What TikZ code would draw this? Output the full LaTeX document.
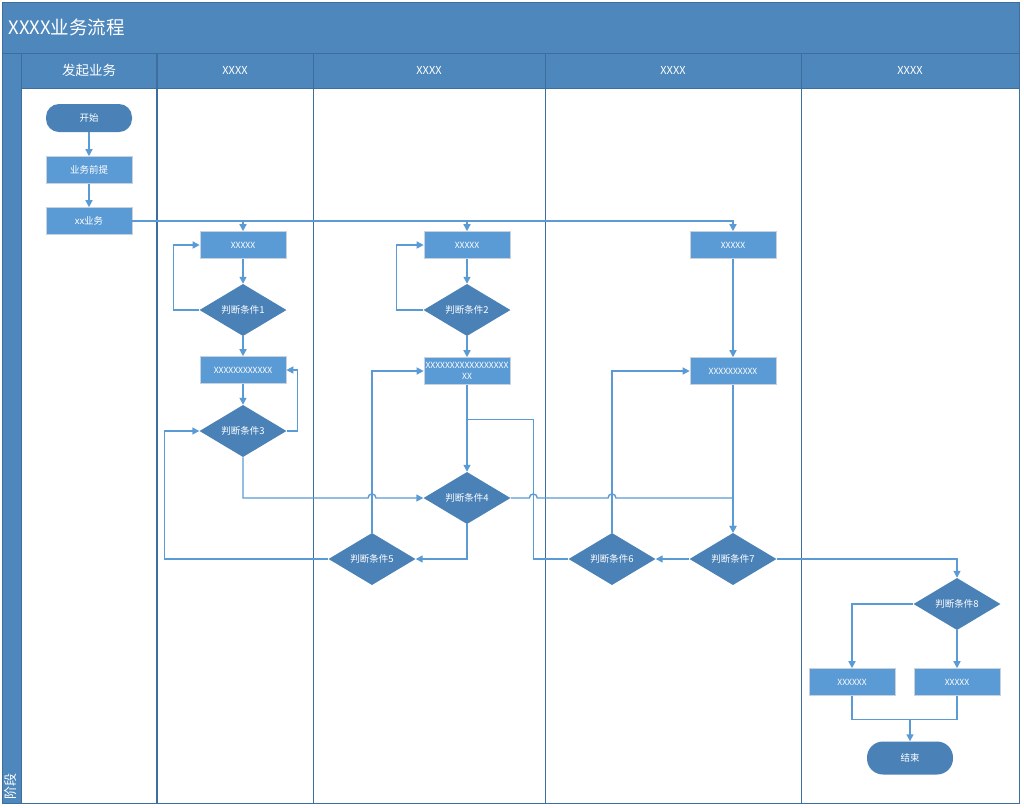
\documentclass[tikz,border=0pt]{standalone}
\usepackage{fontspec}
\setmainfont{Noto Sans CJK SC}
\usetikzlibrary{shapes.geometric,arrows.meta}
\definecolor{headblue}{RGB}{78,135,188}
\definecolor{decblue}{RGB}{74,130,184}
\definecolor{boxblue}{RGB}{91,155,213}
\definecolor{boxedge}{RGB}{200,210,222}
\definecolor{linecol}{RGB}{91,155,213}
\definecolor{lanecol}{RGB}{62,110,160}
\begin{document}
\begin{tikzpicture}[x=1pt,y=-1pt,
  lane/.style={draw=lanecol,line width=0.9pt},
  proc/.style={rectangle,fill=boxblue,draw=boxedge,line width=0.6pt,minimum width=86pt,minimum height=27pt,inner sep=1pt,text=white,align=center,font=\fontsize{8.5}{10.5}\selectfont},
  dec/.style={diamond,fill=decblue,minimum width=87pt,minimum height=52pt,inner sep=0pt,text=white,font=\fontsize{9.5}{11}\selectfont},
  term/.style={rectangle,rounded corners=13pt,fill=decblue,minimum width=86pt,minimum height=28pt,text=white,font=\fontsize{9.5}{11}\selectfont},
  hdr/.style={text=white,font=\fontsize{11}{13}\selectfont},
  conn/.style={draw=linecol,line width=1.4pt},
  arr/.style={conn,-{Triangle[length=7pt,width=7pt]}}
]
\useasboundingbox (0,0) rectangle (1024,807);
% frame
\fill[headblue] (2,2) rectangle (1019,88);
\fill[headblue] (2,88) rectangle (21,803);
\fill[white] (21,88) rectangle (1019,803);
\draw[lane] (2,2) rectangle (1019,803);
\draw[lane] (2,53) -- (1019,53);
\draw[lane] (21,88) -- (1019,88);
\draw[lane] (21,53) -- (21,803);
\draw[lane,line width=1.6pt] (157,53) -- (157,803);
\draw[lane] (313,53) -- (313,803);
\draw[lane] (545,53) -- (545,803);
\draw[lane] (801,53) -- (801,803);
% titles
\node[anchor=west,text=white,font=\fontsize{18.5}{20}\selectfont] (title) at (5,27) {XXXX业务流程};
\node[hdr,font=\fontsize{13.5}{15}\selectfont] (h1) at (89,70) {发起业务};
\node[hdr] (h2) at (235,70) {XXXX};
\node[hdr] (h3) at (429,70) {XXXX};
\node[hdr] (h4) at (673,70) {XXXX};
\node[hdr] (h5) at (910,70) {XXXX};
\node[rotate=90,text=white,font=\fontsize{13}{14}\selectfont] (stage) at (11,786) {阶段};
% nodes
\node[term] (start) at (89,118) {开始};
\node[proc,font=\fontsize{9.5}{11}\selectfont] (pre) at (89,170) {业务前提};
\node[proc,font=\fontsize{9.5}{11}\selectfont] (xx) at (89,221) {xx业务};
\node[proc] (a1) at (243,245) {XXXXX};
\node[dec] (d1) at (243,310) {判断条件1};
\node[proc] (a2) at (243,370) {XXXXXXXXXXXX};
\node[dec] (d3) at (243,431) {判断条件3};
\node[proc] (b1) at (467,245) {XXXXX};
\node[dec] (d2) at (467,310) {判断条件2};
\node[proc] (b2) at (467,371) {XXXXXXXXXXXXXXXXX\\XX};
\node[dec] (d4) at (467,498) {判断条件4};
\node[dec] (d5) at (372,559) {判断条件5};
\node[proc] (c1) at (733,245) {XXXXX};
\node[proc] (c2) at (733,371) {XXXXXXXXXX};
\node[dec] (d6) at (612,559) {判断条件6};
\node[dec] (d7) at (733,559) {判断条件7};
\node[dec] (d8) at (957,604) {判断条件8};
\node[proc] (e1) at (852,682) {XXXXXX};
\node[proc] (e2) at (957,682) {XXXXX};
\node[term,minimum height=33pt,rounded corners=16pt] (fin) at (910,758) {结束};
% connectors
\draw[arr] (start.south) -- (pre.north);
\draw[arr] (pre.south) -- (xx.north);
\draw[arr] (xx.east) -| (c1.north);
\draw[arr] (xx.east -| a1.north) -- (a1.north);
\draw[arr] (xx.east -| b1.north) -- (b1.north);
\draw[arr] (a1.south) -- (d1.north);
\draw[arr] (d1.west) -- ++(-26,0) |- (a1.west);
\draw[arr] (d1.south) -- (a2.north);
\draw[arr] (a2.south) -- (d3.north);
\draw[arr] (d3.east) -- ++(11,0) |- (a2.east);
\coordinate (j1) at (d5.north |- d4.west);
\draw[arr] (d3.south) |- ([xshift=-4pt]j1) .. controls ([xshift=-4pt,yshift=5.3pt]j1) and ([xshift=4pt,yshift=5.3pt]j1) .. ([xshift=4pt]j1) -- (d4.west);
\draw[arr] (d4.south) |- (d5.east);
\draw[arr] (d5.north) |- (b2.west);
\draw[arr] (d5.west) -- ++(-164,0) |- (d3.west);
\draw[arr] (b1.south) -- (d2.north);
\draw[arr] (d2.west) -- ++(-27,0) |- (b1.west);
\draw[arr] (d2.south) -- (b2.north);
\draw[arr] (b2.south) -- (d4.north);
\path (b2.south) -- (d4.north) coordinate[pos=0.4] (m1);
\coordinate (k6) at ([xshift=-35pt]d6.west);
\draw[conn] (d6.west) -- (k6) |- (m1);
\coordinate (j2) at (k6 |- d4.east);
\coordinate (j3) at (d6.north |- d4.east);
\draw[arr] (d4.east) -- ([xshift=-4pt]j2) .. controls ([xshift=-4pt,yshift=5.3pt]j2) and ([xshift=4pt,yshift=5.3pt]j2) .. ([xshift=4pt]j2) -- ([xshift=-4pt]j3) .. controls ([xshift=-4pt,yshift=5.3pt]j3) and ([xshift=4pt,yshift=5.3pt]j3) .. ([xshift=4pt]j3) -| (d7.north);
\draw[arr] (c1.south) -- (c2.north);
\draw[arr] (c2.south) -- (d7.north);
\draw[arr] (d7.west) -- (d6.east);
\draw[arr] (d6.north) |- (c2.west);
\draw[arr] (d7.east) -| (d8.north);
\draw[arr] (d8.west) -| (e1.north);
\draw[arr] (d8.south) -- (e2.north);
\path (fin.north) ++(0,-22) coordinate (m2);
\draw[conn] (e1.south) |- (m2) -| (e2.south);
\draw[arr] (m2) -- (fin.north);
\end{tikzpicture}
\end{document}
